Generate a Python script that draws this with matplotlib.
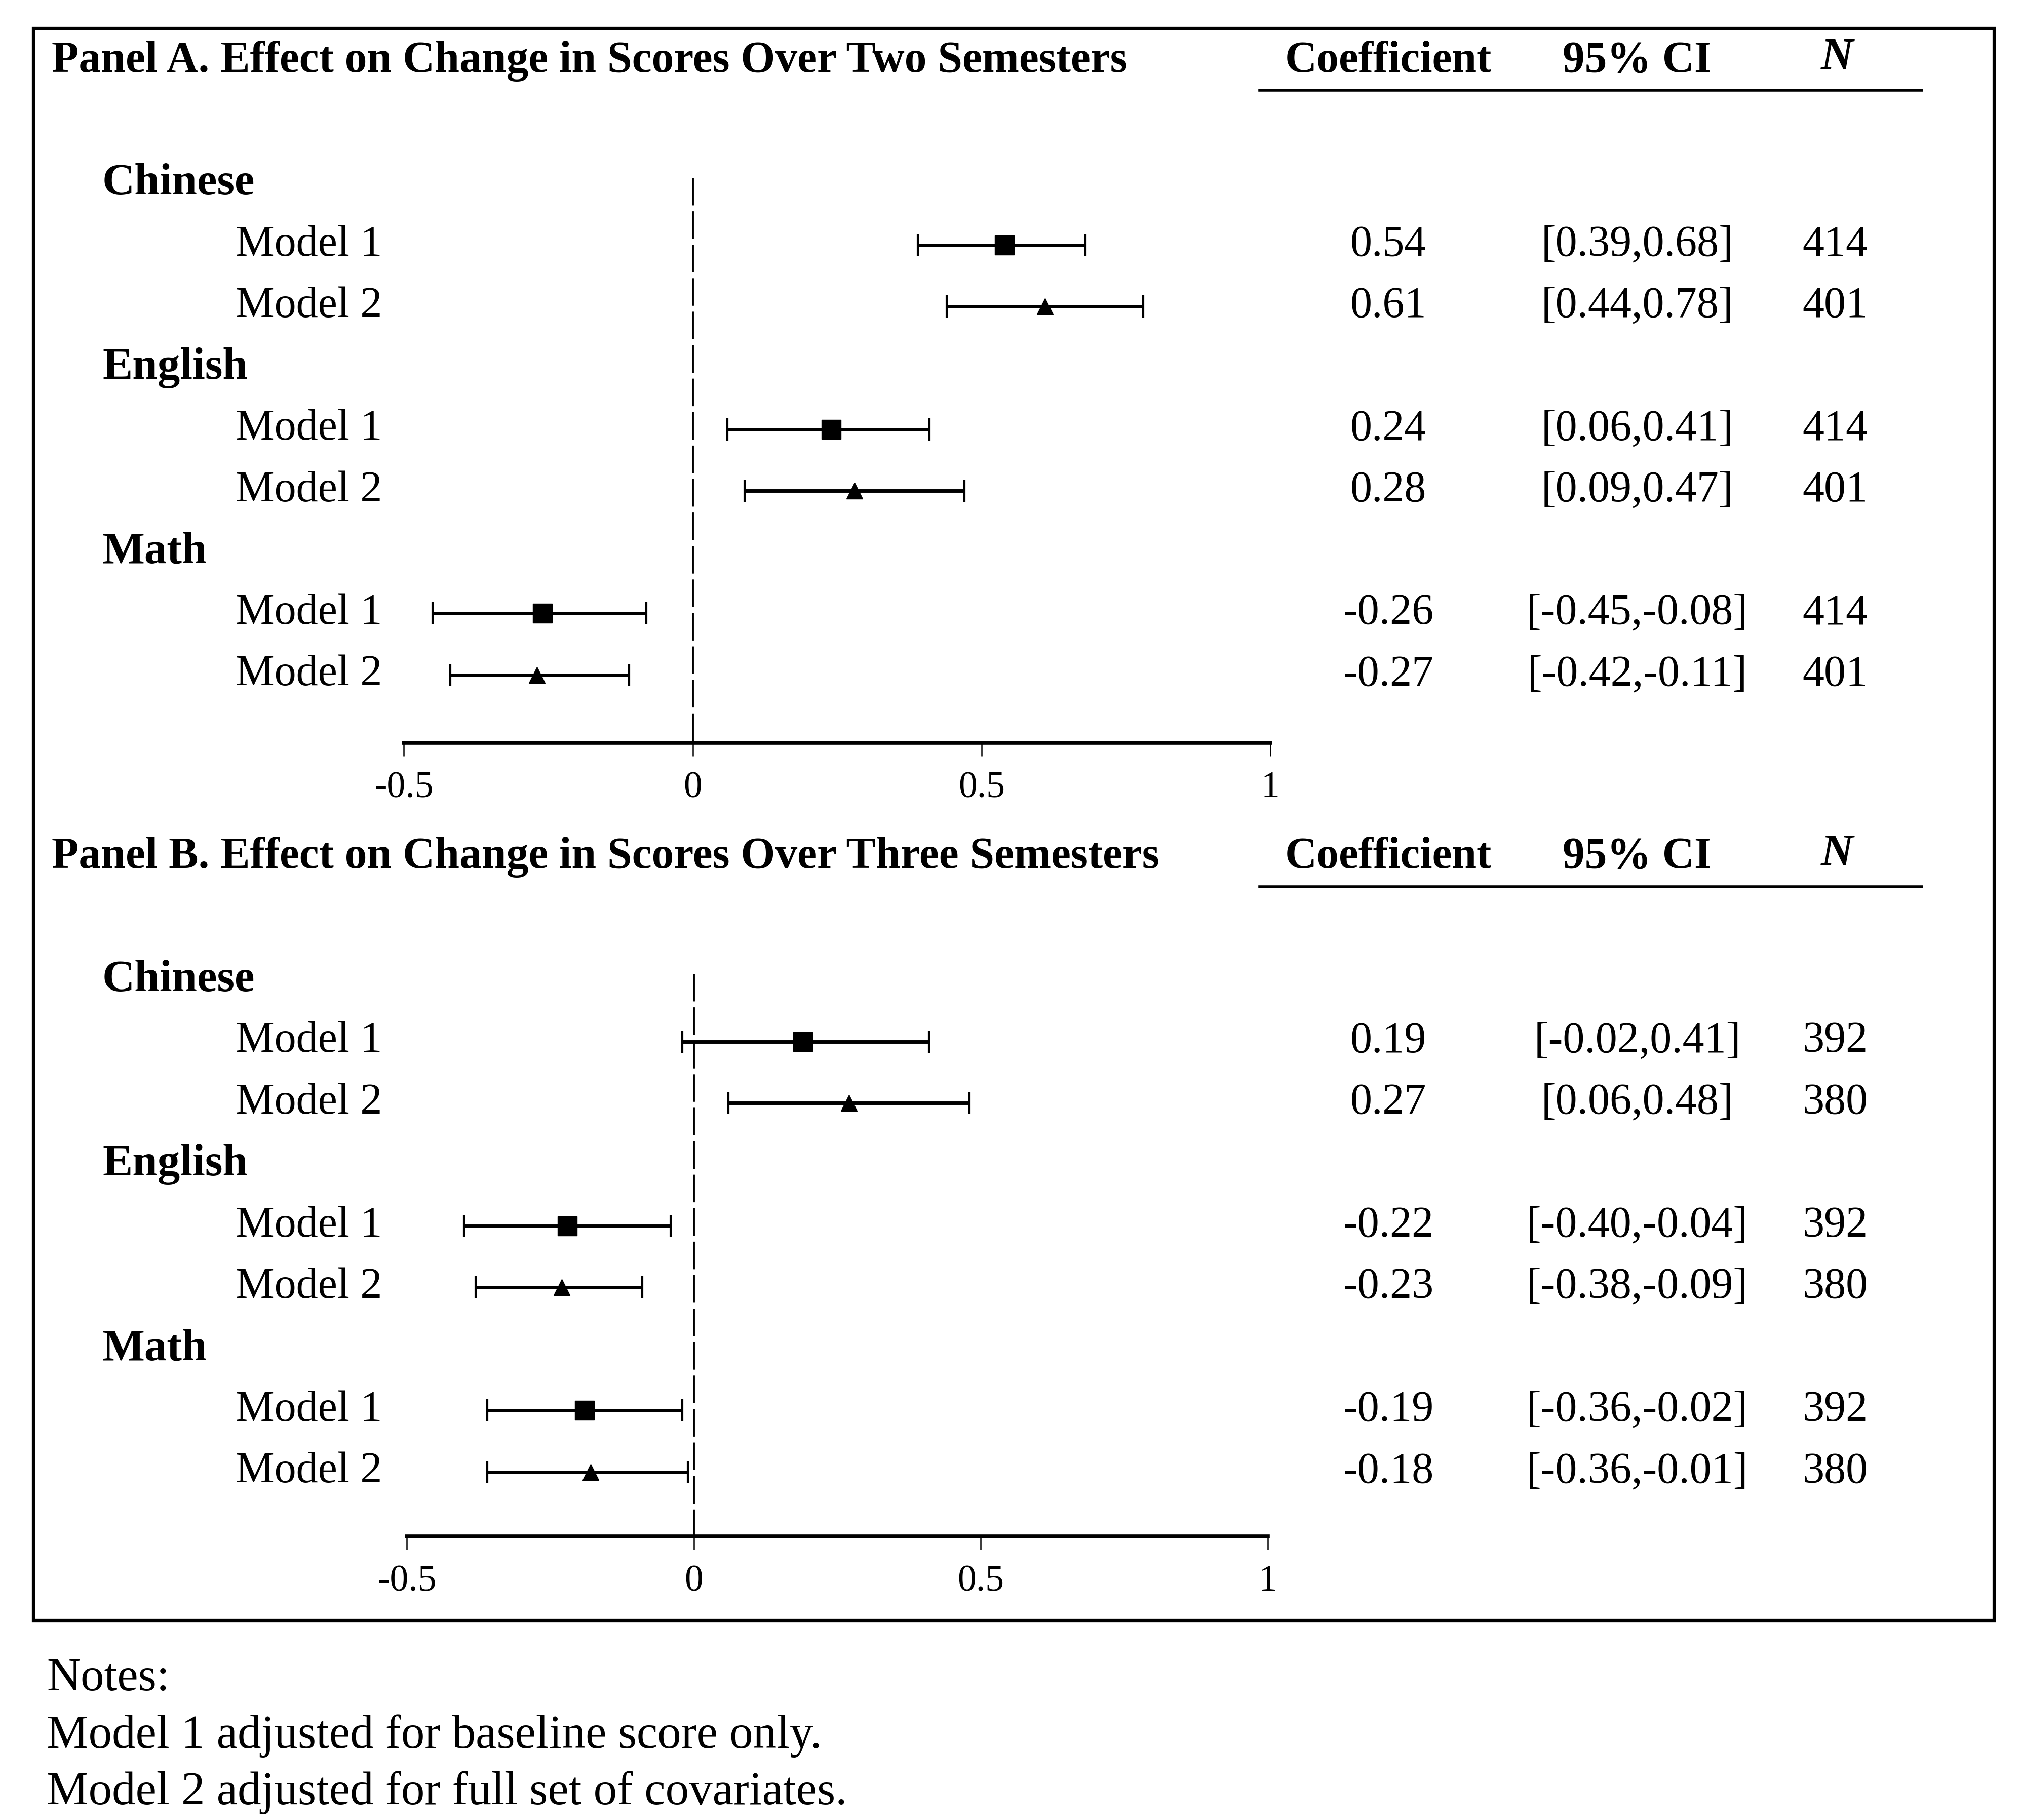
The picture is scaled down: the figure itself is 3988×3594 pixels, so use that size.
import matplotlib
matplotlib.use("Agg")
import matplotlib.pyplot as plt
from matplotlib.patches import Rectangle

plt.rcParams['font.family'] = ['Liberation Serif', 'DejaVu Serif']

subjects = ["Chinese", "English", "Math"]
models = ["Model 1", "Model 2"]

# Panel A: two semesters
coef_a = [0.54, 0.61, 0.24, 0.28, -0.26, -0.27]
lo_a = [0.39, 0.44, 0.06, 0.09, -0.45, -0.42]
hi_a = [0.68, 0.78, 0.41, 0.47, -0.08, -0.11]
n_a = [414, 401, 414, 401, 414, 401]

# Panel B: three semesters
coef_b = [0.19, 0.27, -0.22, -0.23, -0.19, -0.18]
lo_b = [-0.02, 0.06, -0.40, -0.38, -0.36, -0.36]
hi_b = [0.41, 0.48, -0.04, -0.09, -0.02, -0.01]
n_b = [392, 380, 392, 380, 392, 380]

titles = ["Panel A. Effect on Change in Scores Over Two Semesters",
          "Panel B. Effect on Change in Scores Over Three Semesters"]
ticks = [-0.5, 0, 0.5, 1]
tick_labels = ["-0.5", "0", "0.5", "1"]
notes = ["Notes:", "Model 1 adjusted for baseline score only.",
         "Model 2 adjusted for full set of covariates."]

fig = plt.figure(figsize=(39.88, 35.94), dpi=100)

# outer frame
fig.add_artist(Rectangle((0.01667, 0.1095), 0.9705, 0.8749, fill=False,
                         lw=4.5, ec="black", transform=fig.transFigure))

panels = [
    dict(pos=[0.01667, 0.5918, 0.9705, 0.3926], xlim=(-1.141, 2.253), ylim=(9.11, -2.53),
         coef=coef_a, lo=lo_a, hi=hi_a, n=n_a, title=titles[0]),
    dict(pos=[0.01667, 0.1558, 0.9705, 0.3997], xlim=(-1.150, 2.265), ylim=(9.05, -2.78),
         coef=coef_b, lo=lo_b, hi=hi_b, n=n_b, title=titles[1]),
]

fs = 62
for p in panels:
    ax = fig.add_axes(p["pos"])
    ax.set_xlim(p["xlim"])
    ax.set_ylim(p["ylim"])
    for s in ["top", "left", "right"]:
        ax.spines[s].set_visible(False)
    ax.spines["bottom"].set_bounds(-0.5, 1)
    ax.spines["bottom"].set_linewidth(5.5)
    ax.set_yticks([])
    ax.set_xticks(ticks)
    ax.set_xticklabels(tick_labels, fontsize=53)
    ax.tick_params(axis="x", direction="out", length=19, width=1.8, pad=21)
    ax.patch.set_visible(False)

    ax.plot([0, 0], [-0.1, p["ylim"][0]], color="black", lw=2.8,
            linestyle=(0, (14, 3)))

    tr = ax.get_yaxis_transform()
    ax.text(0.00925, -2.0, p["title"], transform=tr, fontsize=63, fontweight="bold",
            ha="left", va="center")
    ax.text(0.691, -2.0, "Coefficient", transform=tr, fontsize=63, fontweight="bold",
            ha="center", va="center")
    ax.text(0.818, -2.0, "95% CI", transform=tr, fontsize=63, fontweight="bold",
            ha="center", va="center")
    ax.text(0.920, -2.05, "N", transform=tr, fontsize=64, fontweight="bold",
            fontstyle="italic", ha="center", va="center")
    ax.plot([0.6255, 0.963], [-1.52, -1.52], transform=tr, color="black", lw=4,
            clip_on=False)

    k = 0
    for i, subj in enumerate(subjects):
        ax.text(0.035, 3 * i, subj, transform=tr, fontsize=64, fontweight="bold",
                ha="left", va="center")
        for j, m in enumerate(models):
            y = 3 * i + 1 + j
            c = p["coef"][k]
            ax.errorbar(c, y, xerr=[[c - p["lo"][k]], [p["hi"][k] - c]],
                        fmt="s" if j == 0 else "^", color="black",
                        ms=27 if j == 0 else 23, elinewidth=5, capsize=16,
                        capthick=3, clip_on=False)
            ax.text(0.103, y, m, transform=tr, fontsize=fs, ha="left", va="center")
            ax.text(0.691, y, "%.2f" % c, transform=tr, fontsize=fs,
                    ha="center", va="center")
            ax.text(0.818, y, "[%.2f,%.2f]" % (p["lo"][k], p["hi"][k]), transform=tr,
                    fontsize=fs, ha="center", va="center")
            ax.text(0.919, y, str(p["n"][k]), transform=tr, fontsize=fs,
                    ha="center", va="center")
            k += 1

for t, y in zip(notes, [0.0775, 0.0462, 0.0149]):
    fig.text(0.0231, y, t, fontsize=67, ha="left", va="center")

fig.savefig("out.png", dpi=100)
